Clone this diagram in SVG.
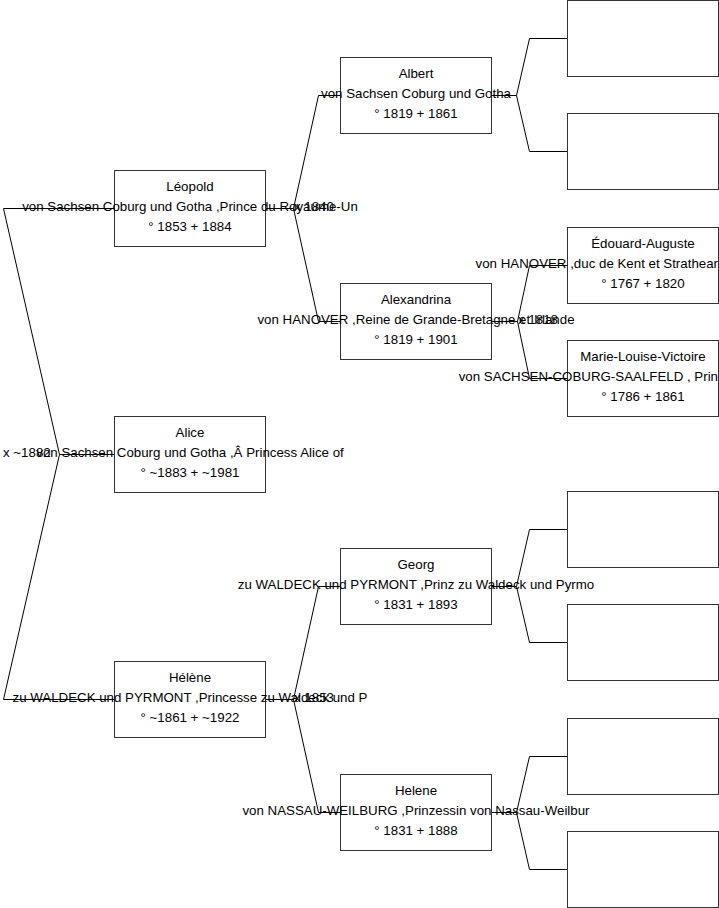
<svg xmlns="http://www.w3.org/2000/svg" width="719" height="908" viewBox="0 0 719 908">
<style>
.box{fill:#fff;stroke:#333;stroke-width:1}
.ln{fill:none;stroke:#000;stroke-width:1}
text{font-family:"Liberation Sans",Arial,sans-serif;font-size:13.3px;fill:#000}
.c{text-anchor:middle}
.e{text-anchor:end}
</style>
<rect width="719" height="908" fill="#fff"/>
<g id="connectors">
<polyline class="ln" points="114,208.5 3.5,208.5 59.5,454.5 3.5,699.5 114,699.5"/>
<line class="ln" x1="59.5" y1="454.5" x2="114" y2="454.5"/>
<polyline class="ln" points="340,95.5 318.5,95.5 293.5,208.5 318.5,321.5 340,321.5"/>
<line class="ln" x1="265" y1="208.5" x2="293.5" y2="208.5"/>
<polyline class="ln" points="340,586.5 318.5,586.5 293.5,699.5 318.5,812.5 340,812.5"/>
<line class="ln" x1="265" y1="699.5" x2="293.5" y2="699.5"/>
<polyline class="ln" points="567,38.5 529.5,38.5 516.5,95.5 529.5,151.5 567,151.5"/>
<line class="ln" x1="491" y1="95.5" x2="516.5" y2="95.5"/>
<polyline class="ln" points="567,265.5 529.5,265.5 517.5,321.5 529.5,378.5 567,378.5"/>
<line class="ln" x1="491" y1="321.5" x2="517.5" y2="321.5"/>
<polyline class="ln" points="567,529.5 529.5,529.5 516.5,586.5 529.5,642.5 567,642.5"/>
<line class="ln" x1="491" y1="586.5" x2="516.5" y2="586.5"/>
<polyline class="ln" points="567,756.5 529.5,756.5 516.5,812.5 529.5,869.5 567,869.5"/>
<line class="ln" x1="491" y1="812.5" x2="516.5" y2="812.5"/>
</g>
<g id="marriages">
<text x="3" y="457">x ~1882</text>
<text x="294" y="211">x 1840</text>
<text x="518" y="324">x 1818</text>
<text x="294" y="702">x 1853</text>
</g>
<g id="leopold">
<rect class="box" x="114.5" y="170.5" width="151" height="76"/>
<text class="c" x="190" y="191">Léopold</text>
<text class="c" x="190" y="211">von Sachsen Coburg und Gotha ,Prince du Royaume-Un</text>
<text class="c" x="190" y="231">° 1853 + 1884</text>
</g>
<g id="alice">
<rect class="box" x="114.5" y="416.5" width="151" height="76"/>
<text class="c" x="190" y="437">Alice</text>
<text class="c" x="190" y="457">von Sachsen Coburg und Gotha ,Â Princess Alice of</text>
<text class="c" x="190" y="477">° ~1883 + ~1981</text>
</g>
<g id="helene1">
<rect class="box" x="114.5" y="661.5" width="151" height="76"/>
<text class="c" x="190" y="682">Hélène</text>
<text class="c" x="190" y="702">zu WALDECK und PYRMONT ,Princesse zu Waldeck und P</text>
<text class="c" x="190" y="722">° ~1861 + ~1922</text>
</g>
<g id="albert">
<rect class="box" x="340.5" y="57.5" width="151" height="76"/>
<text class="c" x="416" y="78">Albert</text>
<text class="c" x="416" y="98">von Sachsen Coburg und Gotha</text>
<text class="c" x="416" y="118">° 1819 + 1861</text>
</g>
<g id="alexandrina">
<rect class="box" x="340.5" y="283.5" width="151" height="76"/>
<text class="c" x="416" y="304">Alexandrina</text>
<text class="c" x="416" y="324">von HANOVER ,Reine de Grande-Bretagne et Irlande</text>
<text class="c" x="416" y="344">° 1819 + 1901</text>
</g>
<g id="georg">
<rect class="box" x="340.5" y="548.5" width="151" height="76"/>
<text class="c" x="416" y="569">Georg</text>
<text class="c" x="416" y="589">zu WALDECK und PYRMONT ,Prinz zu Waldeck und Pyrmo</text>
<text class="c" x="416" y="609">° 1831 + 1893</text>
</g>
<g id="helene2">
<rect class="box" x="340.5" y="774.5" width="151" height="76"/>
<text class="c" x="416" y="795">Helene</text>
<text class="c" x="416" y="815">von NASSAU-WEILBURG ,Prinzessin von Nassau-Weilbur</text>
<text class="c" x="416" y="835">° 1831 + 1888</text>
</g>
<g id="p1"><rect class="box" x="567.5" y="0.5" width="151" height="76"/></g>
<g id="p2"><rect class="box" x="567.5" y="113.5" width="151" height="76"/></g>
<g id="edouard">
<rect class="box" x="567.5" y="227.5" width="151" height="76"/>
<text class="c" x="643" y="248">Édouard-Auguste</text>
<text class="e" x="718" y="268">von HANOVER ,duc de Kent et Strathear</text>
<text class="c" x="643" y="288">° 1767 + 1820</text>
</g>
<g id="marie">
<rect class="box" x="567.5" y="340.5" width="151" height="76"/>
<text class="c" x="643" y="361">Marie-Louise-Victoire</text>
<text class="e" x="718" y="381">von SACHSEN-COBURG-SAALFELD , Prin</text>
<text class="c" x="643" y="401">° 1786 + 1861</text>
</g>
<g id="p5"><rect class="box" x="567.5" y="491.5" width="151" height="76"/></g>
<g id="p6"><rect class="box" x="567.5" y="604.5" width="151" height="76"/></g>
<g id="p7"><rect class="box" x="567.5" y="718.5" width="151" height="76"/></g>
<g id="p8"><rect class="box" x="567.5" y="831.5" width="151" height="76"/></g>
</svg>
